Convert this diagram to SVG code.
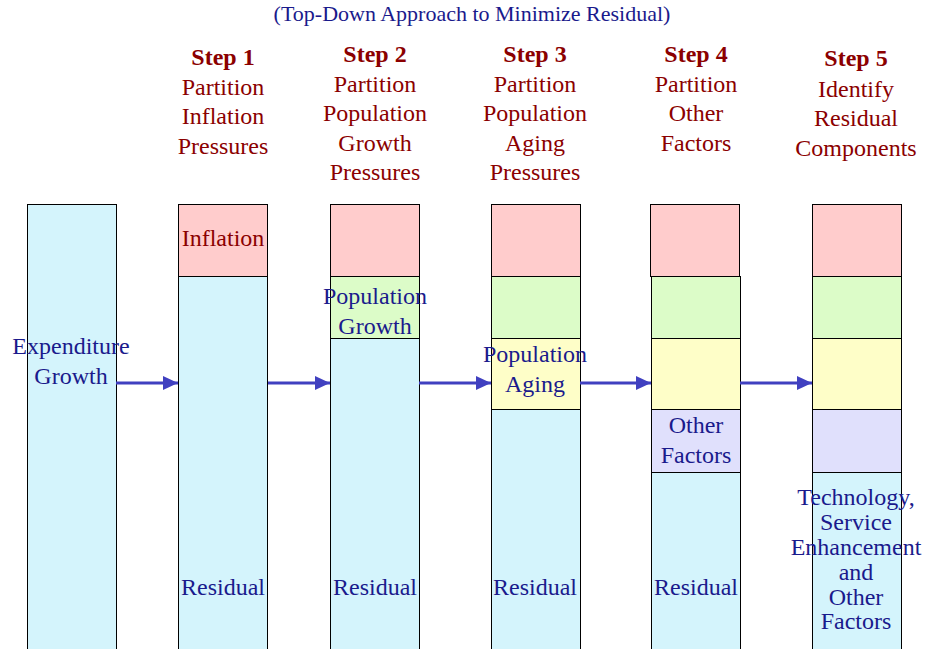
<svg xmlns="http://www.w3.org/2000/svg" width="927" height="649" viewBox="0 0 927 649">
<style>
  text { font-family: "Liberation Serif", "Times New Roman", serif; font-size: 24px; text-anchor: middle; }
  .title { font-size: 22px; fill: #1a1a8c; }
  .step { font-weight: bold; fill: #8b0000; }
  .hdr { fill: #8b0000; }
  .lbl { fill: #1a1a8c; }
  .red { fill: #8b0000; }
  .box { stroke: #000; stroke-width: 1; }
  .cyan { fill: #d4f4fc; }
  .pink { fill: #ffcccc; }
  .green { fill: #dcfcc8; }
  .yellow { fill: #fefec8; }
  .lav { fill: #e0e0fc; }
  .arrow { stroke: #4040c0; stroke-width: 3; fill: none; marker-end: url(#ah); }
</style>
<defs>
  <marker id="ah" markerUnits="userSpaceOnUse" markerWidth="16" markerHeight="16" refX="15" refY="8" orient="auto">
    <path d="M0,1 L15,8 L0,15 Z" fill="#4040c0"/>
  </marker>
</defs>
<rect width="927" height="649" fill="#fff"/>
<text class="title" x="472" y="21">(Top-Down Approach to Minimize Residual)</text>

<g id="step1-header">
  <text class="step" x="223" y="65">Step 1</text>
  <text class="hdr" x="223" y="95">Partition</text>
  <text class="hdr" x="223" y="124">Inflation</text>
  <text class="hdr" x="223" y="154">Pressures</text>
</g>
<g id="step2-header">
  <text class="step" x="375" y="62">Step 2</text>
  <text class="hdr" x="375" y="92">Partition</text>
  <text class="hdr" x="375" y="121">Population</text>
  <text class="hdr" x="375" y="151">Growth</text>
  <text class="hdr" x="375" y="180">Pressures</text>
</g>
<g id="step3-header">
  <text class="step" x="535" y="62">Step 3</text>
  <text class="hdr" x="535" y="92">Partition</text>
  <text class="hdr" x="535" y="121">Population</text>
  <text class="hdr" x="535" y="151">Aging</text>
  <text class="hdr" x="535" y="180">Pressures</text>
</g>
<g id="step4-header">
  <text class="step" x="696" y="62">Step 4</text>
  <text class="hdr" x="696" y="92">Partition</text>
  <text class="hdr" x="696" y="121">Other</text>
  <text class="hdr" x="696" y="151">Factors</text>
</g>
<g id="step5-header">
  <text class="step" x="856" y="66">Step 5</text>
  <text class="hdr" x="856" y="97">Identify</text>
  <text class="hdr" x="856" y="126">Residual</text>
  <text class="hdr" x="856" y="156">Components</text>
</g>

<g id="col0">
  <rect class="box cyan" x="27.5" y="204.5" width="89" height="460"/>
  <text class="lbl" x="71" y="354">Expenditure</text>
  <text class="lbl" x="71" y="384">Growth</text>
</g>
<g id="col1">
  <rect class="box cyan" x="178.5" y="276.5" width="89" height="390"/>
  <rect class="box pink" x="178.5" y="204.5" width="89" height="72"/>
  <text class="red" x="223" y="246">Inflation</text>
  <text class="lbl" x="223" y="595">Residual</text>
</g>
<g id="col2">
  <rect class="box cyan" x="330.5" y="338.5" width="89" height="330"/>
  <rect class="box pink" x="330.5" y="204.5" width="89" height="72"/>
  <rect class="box green" x="330.5" y="276.5" width="89" height="62"/>
  <text class="lbl" x="375" y="304">Population</text>
  <text class="lbl" x="375" y="334">Growth</text>
  <text class="lbl" x="375" y="595">Residual</text>
</g>
<g id="col3">
  <rect class="box cyan" x="491.5" y="409.5" width="89" height="260"/>
  <rect class="box pink" x="491.5" y="204.5" width="89" height="72"/>
  <rect class="box green" x="491.5" y="276.5" width="89" height="62"/>
  <rect class="box yellow" x="491.5" y="338.5" width="89" height="71"/>
  <text class="lbl" x="535" y="362">Population</text>
  <text class="lbl" x="535" y="392">Aging</text>
  <text class="lbl" x="535" y="595">Residual</text>
</g>
<g id="col4">
  <rect class="box cyan" x="651.5" y="472.5" width="89" height="200"/>
  <rect class="box pink" x="650.5" y="204.5" width="89" height="72"/>
  <rect class="box green" x="651.5" y="276.5" width="89" height="62"/>
  <rect class="box yellow" x="651.5" y="338.5" width="89" height="71"/>
  <rect class="box lav" x="651.5" y="409.5" width="89" height="63"/>
  <text class="lbl" x="696" y="433">Other</text>
  <text class="lbl" x="696" y="463">Factors</text>
  <text class="lbl" x="696" y="595">Residual</text>
</g>
<g id="col5">
  <rect class="box cyan" x="812.5" y="472.5" width="89" height="200"/>
  <rect class="box pink" x="812.5" y="204.5" width="89" height="72"/>
  <rect class="box green" x="812.5" y="276.5" width="89" height="62"/>
  <rect class="box yellow" x="812.5" y="338.5" width="89" height="71"/>
  <rect class="box lav" x="812.5" y="409.5" width="89" height="63"/>
  <text class="lbl" x="856" y="505">Technology,</text>
  <text class="lbl" x="856" y="530">Service</text>
  <text class="lbl" x="856" y="555">Enhancement</text>
  <text class="lbl" x="856" y="580">and</text>
  <text class="lbl" x="856" y="605">Other</text>
  <text class="lbl" x="856" y="629">Factors</text>
</g>

<g id="connectors">
  <line class="arrow" x1="116" y1="383" x2="178" y2="383"/>
  <line class="arrow" x1="268" y1="383" x2="330" y2="383"/>
  <line class="arrow" x1="419" y1="383" x2="491" y2="383"/>
  <line class="arrow" x1="580" y1="383" x2="651" y2="383"/>
  <line class="arrow" x1="740" y1="383" x2="812" y2="383"/>
</g>
</svg>
